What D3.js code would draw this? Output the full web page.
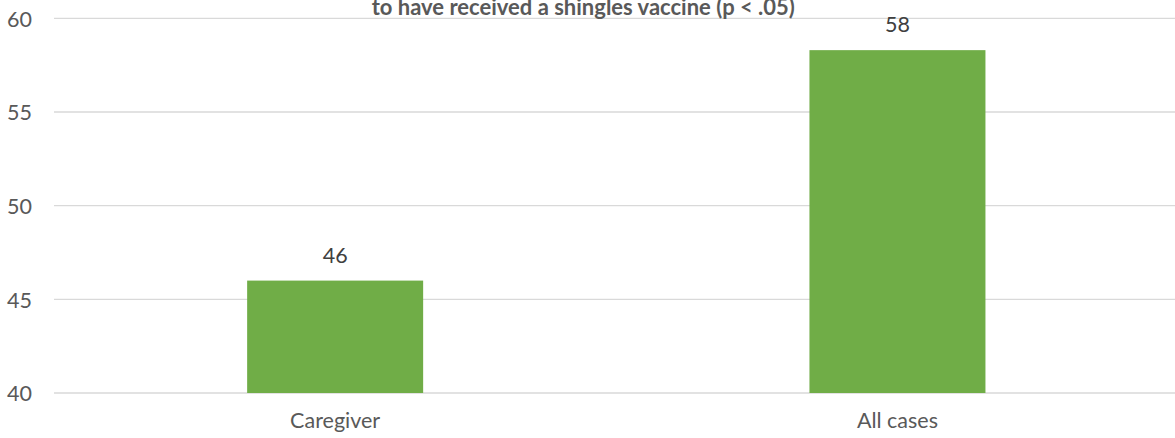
<!DOCTYPE html>
<html>
<head>
<meta charset="utf-8">
<script src="https://cdn.jsdelivr.net/npm/d3@7"></script>
<style>
  html, body { margin: 0; padding: 0; background: #ffffff; }
  svg { display: block; }
</style>
</head>
<body>
<svg id="chart" width="1175" height="438"></svg>
<script>
const categories = ["Caregiver", "All cases"];
const values = [46, 58.3];
const yTicks = [40, 45, 50, 55, 60];
const titleText = "to have received a shingles vaccine (p < .05)";

const W = 1175, H = 438;
const plot = { left: 54, right: 1178.6, top: 18.3, bottom: 393 };
const FONT = "Lato, 'Open Sans', sans-serif";

const svg = d3.select("#chart");

const x = d3.scaleBand()
  .domain(categories)
  .range([plot.left, plot.right])
  .paddingInner(0.687)
  .paddingOuter(0.3435);

const y = d3.scaleLinear()
  .domain([40, 60])
  .range([plot.bottom, plot.top]);

// gridlines
svg.append("g")
  .selectAll("line")
  .data(yTicks)
  .join("line")
  .attr("x1", plot.left)
  .attr("x2", plot.right)
  .attr("y1", d => y(d))
  .attr("y2", d => y(d))
  .attr("stroke", "#d9d9d9")
  .attr("stroke-width", 1.3);

// y axis labels
const yAxis = d3.axisLeft(y).tickValues(yTicks).tickSize(0).tickPadding(0);
const yg = svg.append("g")
  .attr("transform", `translate(32,0)`)
  .call(yAxis);
yg.select(".domain").remove();
yg.selectAll("text")
  .attr("font-family", FONT)
  .attr("font-size", "21.5px")
  .attr("fill", "#595959")
  .attr("dy", "0.36em");

// bars
svg.append("g")
  .selectAll("rect")
  .data(categories.map((c, i) => ({ c, v: values[i] })))
  .join("rect")
  .attr("x", d => x(d.c))
  .attr("width", x.bandwidth())
  .attr("y", d => y(d.v))
  .attr("height", d => y(40) - y(d.v))
  .attr("fill", "#70ad47");

// data labels
svg.append("g")
  .selectAll("text")
  .data(categories.map((c, i) => ({ c, v: values[i] })))
  .join("text")
  .attr("x", d => x(d.c) + x.bandwidth() / 2)
  .attr("y", d => y(d.v) - 18)
  .attr("text-anchor", "middle")
  .attr("font-family", FONT)
  .attr("font-size", "21.5px")
  .attr("fill", "#404040")
  .text(d => d3.format(".0f")(d.v));

// x axis labels
const xAxis = d3.axisBottom(x).tickSize(0).tickPadding(0);
const xg = svg.append("g")
  .attr("transform", `translate(0,${428.3})`)
  .call(xAxis);
xg.select(".domain").remove();
xg.selectAll("text")
  .attr("font-family", FONT)
  .attr("font-size", "21.5px")
  .attr("fill", "#595959")
  .attr("dy", "0");

// title (second line visible)
svg.append("text")
  .attr("x", 583.3)
  .attr("y", 14.5)
  .attr("text-anchor", "middle")
  .attr("font-family", FONT)
  .attr("font-weight", "bold")
  .attr("font-size", "22px")
  .attr("fill", "#595959")
  .text(titleText);
</script>
</body>
</html>
